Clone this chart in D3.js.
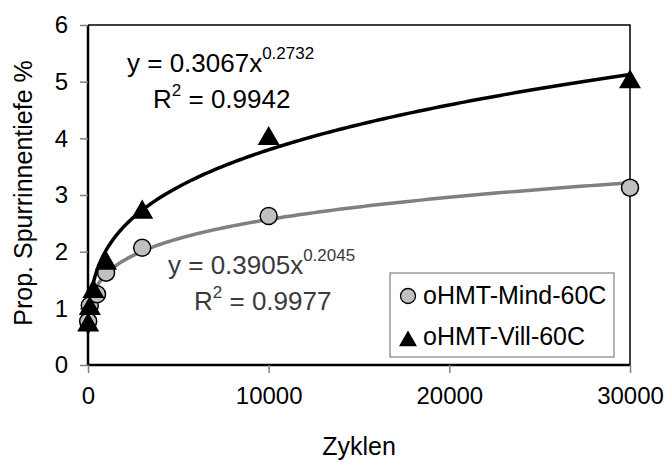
<!DOCTYPE html>
<html>
<head>
<meta charset="utf-8">
<script src="https://cdn.jsdelivr.net/npm/d3@7"></script>
<style>
  body { margin: 0; background: #fff; }
  svg { display: block; font-family: Arial, "Liberation Sans", sans-serif; }
</style>
</head>
<body>
<div id="chart"></div>
<script>
// cycles (x) and relative rut depth (y) per series
var mindCycles = [10, 100, 500, 1000, 3000, 10000, 30000];
var mindDepth  = [0.77, 1.05, 1.25, 1.63, 2.07, 2.63, 3.13];
var villCycles = [10, 100, 300, 1000, 3000, 10000, 30000];
var villDepth  = [0.74, 1.03, 1.33, 1.83, 2.73, 4.03, 5.03];

// power trendlines as printed on the chart: y = a * x^b
var mindFit = {a: 0.3905, b: 0.2045, r2: "0.9977"};
var villFit = {a: 0.3067, b: 0.2732, r2: "0.9942"};

var xTicks = [0, 10000, 20000, 30000];
var yTicks = [0, 1, 2, 3, 4, 5, 6];
var seriesNames = ["oHMT-Mind-60C", "oHMT-Vill-60C"];

var width = 666, height = 462;
var margin = {top: 25, right: 36, bottom: 97, left: 88};
var plotW = width - margin.left - margin.right;
var plotH = height - margin.top - margin.bottom;

var svg = d3.select("#chart").append("svg")
    .attr("width", width)
    .attr("height", height);

var g = svg.append("g")
    .attr("transform", "translate(" + margin.left + "," + margin.top + ")");

var x = d3.scaleLinear().domain([0, 30000]).range([0, plotW]);
var y = d3.scaleLinear().domain([0, 6]).range([plotH, 0]);

// plot frame (top + right)
g.append("path")
    .attr("d", "M0,0H" + plotW + "V" + plotH)
    .attr("fill", "none")
    .attr("stroke", "#000")
    .attr("stroke-width", 1.5);

// axes
var xAxis = g.append("g")
    .attr("transform", "translate(0," + plotH + ")")
    .call(d3.axisBottom(x).tickValues(xTicks).tickFormat(d3.format("d")).tickSize(8).tickPadding(14));
var yAxis = g.append("g")
    .call(d3.axisLeft(y).tickValues(yTicks).tickFormat(d3.format("d")).tickSize(8).tickPadding(12));

[xAxis, yAxis].forEach(function(ax){
    ax.select(".domain").attr("stroke", "#000").attr("stroke-width", 2.5);
    ax.selectAll(".tick line").attr("stroke", "#808080").attr("stroke-width", 1.5);
    ax.selectAll(".tick text").attr("fill", "#000").attr("font-size", 24)
        .attr("font-family", "Arial, 'Liberation Sans', sans-serif");
});
xAxis.select(".domain").attr("d", "M0,0H" + plotW);
yAxis.select(".domain").attr("d", "M0," + plotH + "V0");

// trendlines
function trend(fit, xs){
    var lo = d3.min(xs), hi = d3.max(xs);
    var pts = d3.range(0, 201).map(function(i){
        var xv = lo + (hi - lo) * Math.pow(i / 200, 2.5);
        return [xv, fit.a * Math.pow(xv, fit.b)];
    });
    return d3.line().x(function(d){ return x(d[0]); }).y(function(d){ return y(d[1]); })(pts);
}

g.append("path").attr("d", trend(mindFit, mindCycles))
    .attr("fill", "none").attr("stroke", "#808080").attr("stroke-width", 3.5);
g.append("path").attr("d", trend(villFit, villCycles))
    .attr("fill", "none").attr("stroke", "#000").attr("stroke-width", 3.5);

// markers
var tri = d3.symbol().type(d3.symbolTriangle).size(210);

g.selectAll(".mind").data(d3.zip(mindCycles, mindDepth)).enter()
    .append("circle")
    .attr("class", "mind")
    .attr("cx", function(d){ return x(d[0]); })
    .attr("cy", function(d){ return y(d[1]); })
    .attr("r", 8.5)
    .attr("fill", "#c0c0c0")
    .attr("stroke", "#000")
    .attr("stroke-width", 1.5);

g.selectAll(".vill").data(d3.zip(villCycles, villDepth)).enter()
    .append("path")
    .attr("class", "vill")
    .attr("d", tri)
    .attr("transform", function(d){ return "translate(" + x(d[0]) + "," + (y(d[1]) + 2) + ")"; })
    .attr("fill", "#000");

// trendline equations
function equation(fit, xPos, yPos, color){
    var t = svg.append("text")
        .attr("x", xPos).attr("y", yPos)
        .attr("font-size", 26).attr("fill", color);
    t.append("tspan").text("y = " + fit.a.toFixed(4) + "x");
    t.append("tspan").attr("font-size", 17).attr("dy", -13).text(fit.b.toFixed(4));
    var r = svg.append("text")
        .attr("x", xPos + 26).attr("y", yPos + 36)
        .attr("font-size", 26).attr("fill", color);
    r.append("tspan").text("R");
    r.append("tspan").attr("font-size", 17).attr("dy", -12).text("2");
    r.append("tspan").attr("dy", 12).text(" = " + fit.r2);
}
equation(villFit, 127, 72, "#000");
equation(mindFit, 168, 274, "#3a3a3a");

// axis titles
svg.append("text")
    .attr("x", margin.left + plotW / 2).attr("y", 455)
    .attr("text-anchor", "middle").attr("font-size", 25)
    .text("Zyklen");
svg.append("text")
    .attr("transform", "translate(32," + (margin.top + plotH / 2 - 2) + ") rotate(-90)")
    .attr("text-anchor", "middle").attr("font-size", 25)
    .text("Prop. Spurrinnentiefe %");

// legend
var legend = svg.append("g").attr("transform", "translate(390,273)");
legend.append("rect")
    .attr("width", 224).attr("height", 84)
    .attr("fill", "#fff").attr("stroke", "#808080").attr("stroke-width", 1.2);
legend.append("circle")
    .attr("cx", 18).attr("cy", 23).attr("r", 7.5)
    .attr("fill", "#c0c0c0").attr("stroke", "#000").attr("stroke-width", 1.3);
legend.append("path")
    .attr("d", d3.symbol().type(d3.symbolTriangle).size(140))
    .attr("transform", "translate(18,68)")
    .attr("fill", "#000");
legend.selectAll(".ltext").data(seriesNames).enter()
    .append("text")
    .attr("class", "ltext")
    .attr("x", 33)
    .attr("y", function(d, i){ return 31 + i * 41; })
    .attr("font-size", 25)
    .text(function(d){ return d; });
</script>
</body>
</html>
